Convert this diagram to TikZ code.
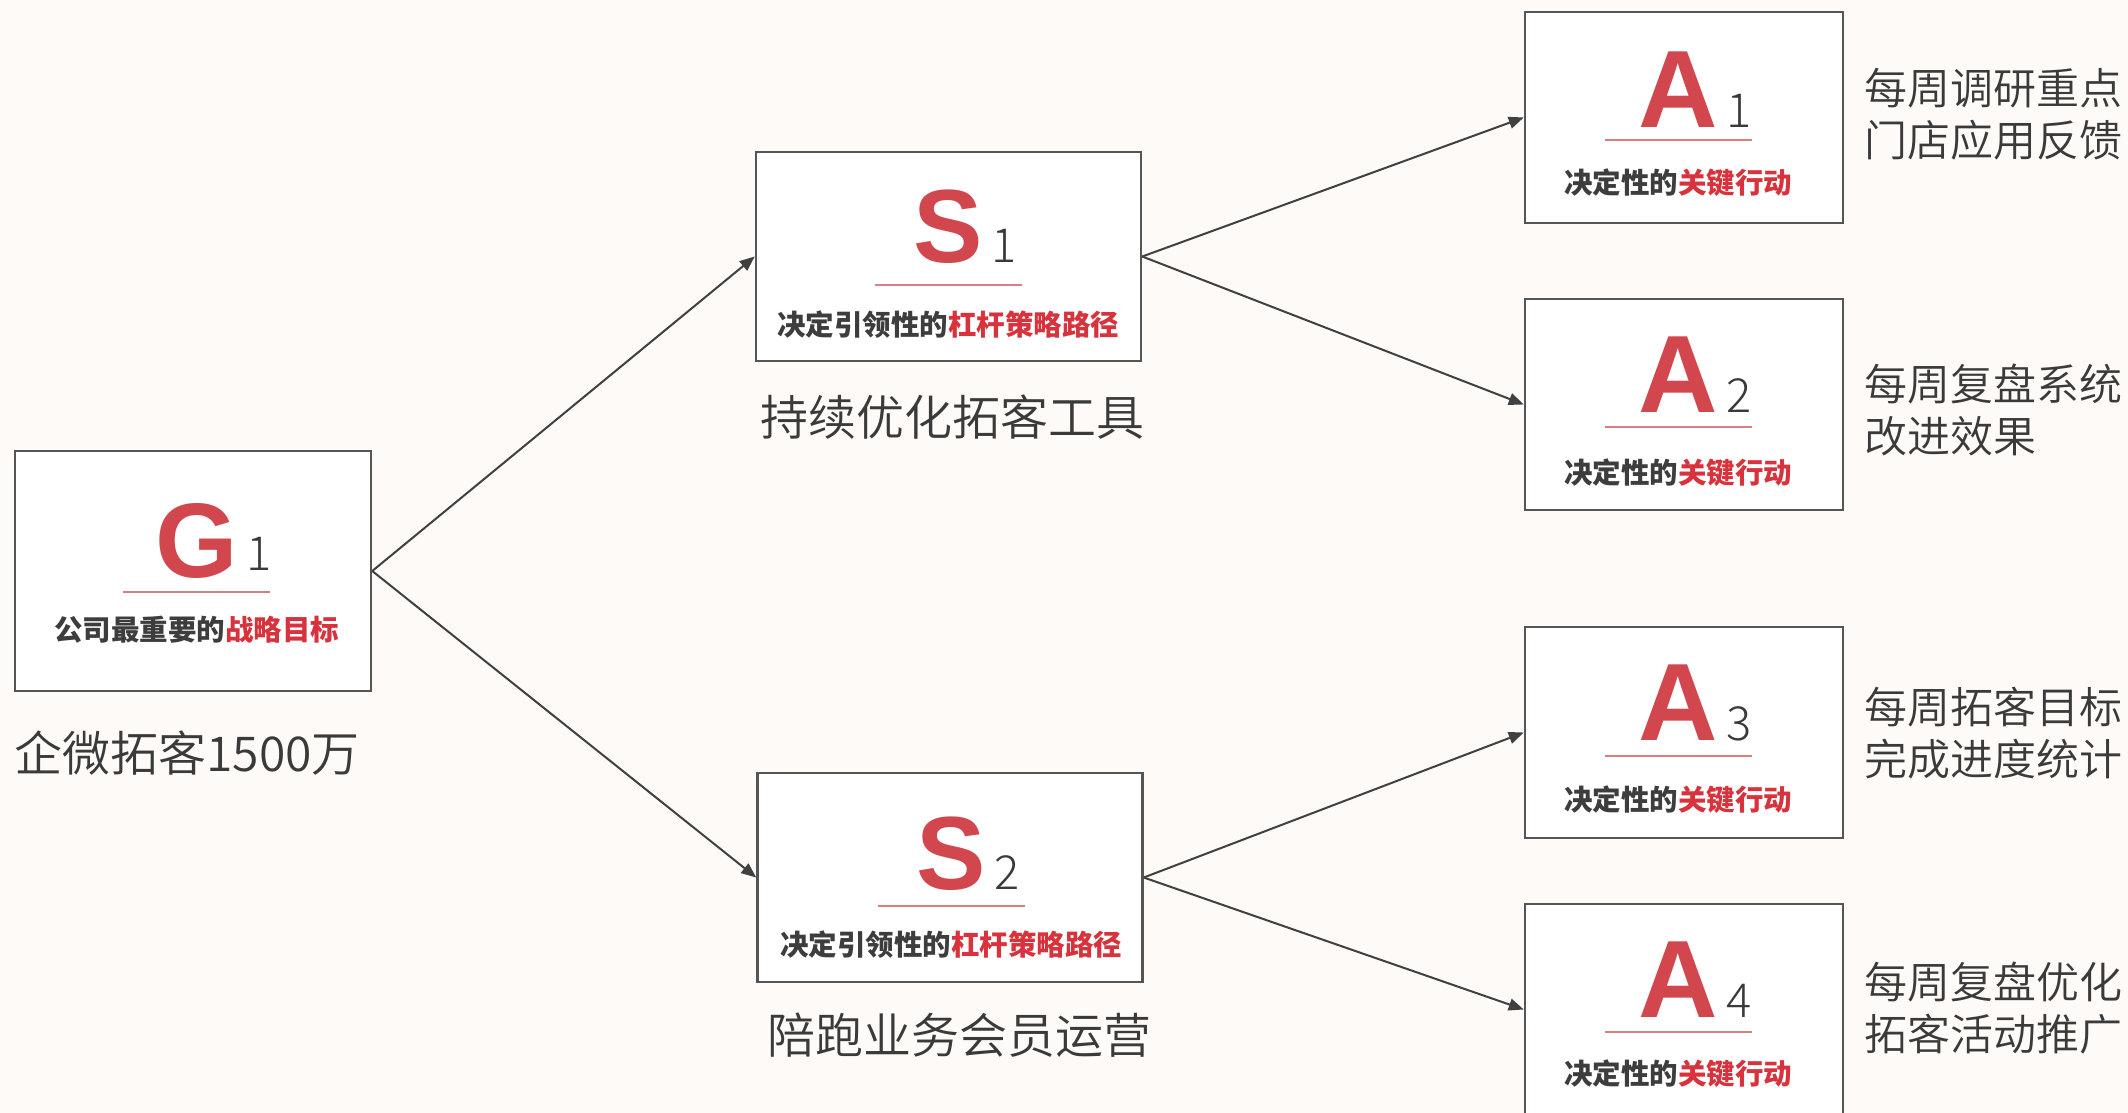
\documentclass[tikz,border=0pt]{standalone}
\usepackage{fontspec}
\setmainfont{Liberation Sans}
\newfontfamily\cjk{Noto Sans CJK SC}
\IfFontExistsTF{Noto Sans CJK SC Light}{\newfontfamily\cjkl{Noto Sans CJK SC Light}}{\newfontfamily\cjkl{Noto Sans CJK SC}}
\IfFontExistsTF{Noto Sans CJK SC DemiLight}{\newfontfamily\cjkd{Noto Sans CJK SC DemiLight}}{\newfontfamily\cjkd{Noto Sans CJK SC}}
\newfontfamily\letterfont{Liberation Sans}
\usetikzlibrary{arrows.meta}
\definecolor{bgc}{HTML}{FDFAF7}
\definecolor{redc}{HTML}{D2474E}
\definecolor{subred}{HTML}{D8333C}
\definecolor{subgray}{HTML}{3D3D3D}
\definecolor{ulc}{HTML}{D97F84}
\definecolor{bordc}{HTML}{555555}
\definecolor{arrc}{HTML}{404040}
\definecolor{labc}{HTML}{3A3A3A}
\definecolor{numc}{HTML}{3A3A3A}
\newcommand{\mkinner}[9]{%
  \node[#2, anchor=base] (#1-L) at ([xshift=#5pt,yshift=-#6pt]#1.center) {#3};
  \node[numeral, #2-num, anchor=base west] (#1-N) at ([xshift=8pt]#1-L.base east) {#4};
  \coordinate (#1-u1) at ([xshift=#5pt-73.5pt,yshift=-#7pt]#1.center);
  \coordinate (#1-u2) at ([xshift=#5pt+73.5pt,yshift=-#7pt]#1.center);
  \draw[uline] (#1-u1) -- (#1-u2);
  \node[subt] (#1-T) at ([xshift=#5pt,yshift=-#8pt]#1.center) {#9};
}
\begin{document}
\begin{tikzpicture}[x=1pt,y=-1pt,
  box/.style={draw=bordc, line width=2.5pt, fill=white, inner sep=0pt},
  gbox/.style={box, minimum width=356pt, minimum height=240pt},
  sbox/.style={box, minimum width=385pt, minimum height=209pt},
  abox/.style={box, minimum width=318pt, minimum height=211pt},
  gletter/.style={inner sep=0pt, text=redc, font=\letterfont\bfseries\fontsize{106}{106}\selectfont},
  sletter/.style={inner sep=0pt, text=redc, font=\letterfont\bfseries\fontsize{104}{104}\selectfont},
  aletter/.style={inner sep=0pt, text=redc, font=\letterfont\bfseries\fontsize{110}{110}\selectfont},
  gletter-num/.style={yshift=7pt},
  sletter-num/.style={},
  aletter-num/.style={},
  numeral/.style={inner sep=0pt, text=numc, font=\cjkl\fontsize{47}{47}\selectfont},
  subt/.style={inner sep=0pt, font=\cjk\bfseries\fontsize{28.5}{30}\selectfont},
  uline/.style={draw=ulc, line width=1.5pt},
  lab/.style={inner sep=0pt, text=labc, font=\cjkd\fontsize{48}{52}\selectfont},
  rlab/.style={inner sep=0pt, text=labc, font=\cjkd\fontsize{43}{52}\selectfont, align=left, anchor=west},
  conn/.style={draw=arrc, line width=2pt, -{Triangle[length=15pt,width=12pt]}}
]
\useasboundingbox (0,0) rectangle (2128,1113);
\fill[bgc] (0,0) rectangle (2128,1113);
\clip (0,0) rectangle (2128,1113);

% boxes
\node[gbox] (G1) at (193,571) {};
\node[sbox] (S1) at (948.5,256.5) {};
\node[sbox] (S2) at (950,877.5) {};
\node[abox] (A1) at (1684,117.5) {};
\node[abox] (A2) at (1684,404.5) {};
\node[abox] (A3) at (1684,732.5) {};
\node[abox] (A4) at (1684,1009.5) {};

% box contents
\mkinner{G1}{gletter}{G}{1}{3.5}{6}{21}{59}{{\color{subgray}公司最重要的}{\color{subred}战略目标}}
\mkinner{S1}{sletter}{S}{1}{-0.5}{6}{28.5}{68}{{\color{subgray}决定引领性的}{\color{subred}杠杆策略路径}}
\mkinner{S2}{sletter}{S}{2}{1}{12}{28.5}{67.5}{{\color{subgray}决定引领性的}{\color{subred}杠杆策略路径}}
\mkinner{A1}{aletter}{A}{1}{-6}{10}{22.5}{65.5}{{\color{subgray}决定性的}{\color{subred}关键行动}}
\mkinner{A2}{aletter}{A}{2}{-6}{8}{22.5}{68}{{\color{subgray}决定性的}{\color{subred}关键行动}}
\mkinner{A3}{aletter}{A}{3}{-6}{8}{23.5}{67.5}{{\color{subgray}决定性的}{\color{subred}关键行动}}
\mkinner{A4}{aletter}{A}{4}{-6}{8}{22.5}{64}{{\color{subgray}决定性的}{\color{subred}关键行动}}

% labels
\node[lab] (G1lab) at (187,753) {企微拓客1500万};
\node[lab] (S1lab) at (952,417) {持续优化拓客工具};
\node[lab] (S2lab) at (959,1035) {陪跑业务会员运营};
\node[rlab] (A1lab) at (1864,114) {每周调研重点\\门店应用反馈};
\node[rlab] (A2lab) at (1864,410) {每周复盘系统\\改进效果};
\node[rlab] (A3lab) at (1864,733) {每周拓客目标\\完成进度统计};
\node[rlab] (A4lab) at (1864,1008) {每周复盘优化\\拓客活动推广};

% connectors
\draw[conn] (G1.east) -- (S1.west);
\draw[conn] (G1.east) -- (S2.west);
\draw[conn] (S1.east) -- (A1.west);
\draw[conn] (S1.east) -- (A2.west);
\draw[conn] (S2.east) -- (A3.west);
\draw[conn] (S2.east) -- (A4.west);
\end{tikzpicture}
\end{document}
